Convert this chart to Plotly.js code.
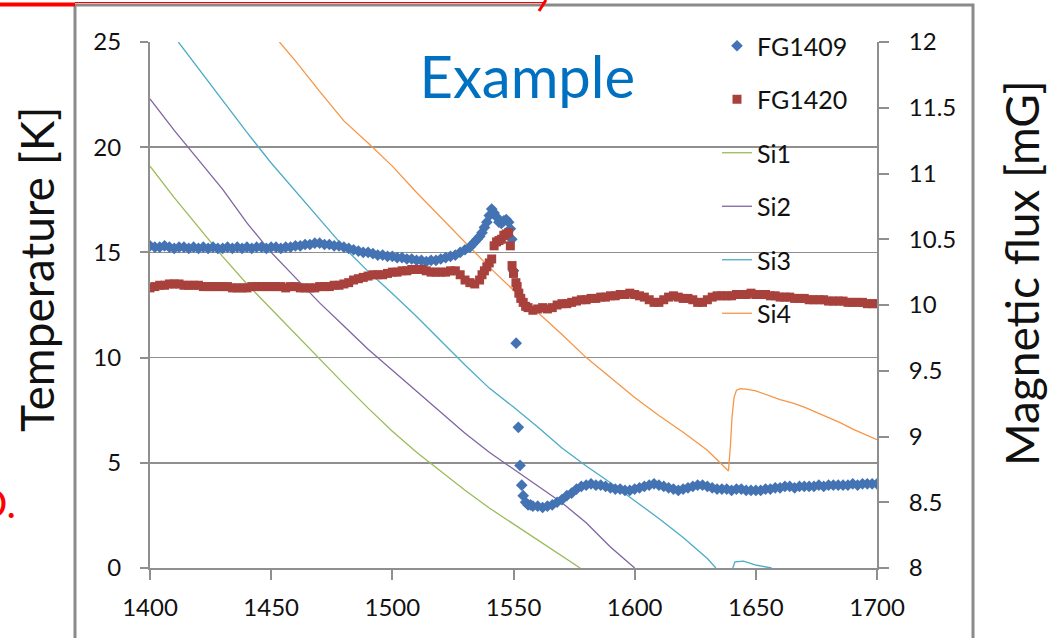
<!DOCTYPE html>
<html>
<head>
<meta charset="utf-8">
<script src="https://cdn.plot.ly/plotly-3.0.1.min.js"></script>
<style>html,body{margin:0;padding:0;background:#fff;}#chart{width:1058px;height:638px;}</style>
</head>
<body>
<div id="chart"></div>
<script>
// ---- FG1409 (right axis, mG) ----
const fg1409Time = [1400,1402,1404,1406,1408,1410,1412,1414,1416,1418,1420,1422,1424,1426,1428,1430,1432,1434,1436,1438,1440,1442,1444,1446,1448,1450,1452,1454,1456,1458,1460,1462,1464,1466,1468,1470,1472,1474,1476,1478,1480,1482,1484,1486,1488,1490,1492,1494,1496,1498,1500,1502,1504,1506,1508,1510,1512,1514,1516,1518,1520,1522,1524,1526,1528,1530,1532,1533,1534,1535,1536,1537,1538,1539,1540,1541,1542,1543,1544,1545,1546,1547,1548,1548.7,1549.3,1550,1551.1,1552,1552.7,1553.4,1554,1555,1556,1557,1558,1560,1562,1564,1566,1568,1570,1572,1574,1576,1578,1580,1582,1584,1586,1588,1590,1592,1594,1596,1598,1600,1602,1604,1606,1608,1610,1612,1614,1616,1618,1620,1622,1624,1626,1628,1630,1632,1634,1636,1638,1640,1642,1644,1646,1648,1650,1652,1654,1656,1658,1660,1662,1664,1666,1668,1670,1672,1674,1676,1678,1680,1682,1684,1686,1688,1690,1692,1694,1696,1698,1700];
const fg1409Flux = [10.45,10.44,10.44,10.45,10.44,10.43,10.44,10.44,10.43,10.44,10.43,10.44,10.43,10.44,10.43,10.43,10.44,10.43,10.44,10.43,10.44,10.43,10.44,10.44,10.43,10.44,10.44,10.43,10.44,10.44,10.45,10.45,10.46,10.46,10.47,10.47,10.46,10.46,10.45,10.45,10.44,10.43,10.42,10.41,10.40,10.40,10.39,10.38,10.38,10.37,10.37,10.36,10.36,10.35,10.35,10.34,10.34,10.33,10.34,10.34,10.35,10.36,10.37,10.38,10.40,10.42,10.44,10.46,10.48,10.50,10.52,10.55,10.59,10.63,10.68,10.73,10.70,10.67,10.63,10.62,10.64,10.65,10.63,10.58,10.50,10.26,9.71,9.07,8.78,8.63,8.55,8.50,8.48,8.48,8.47,8.47,8.46,8.47,8.48,8.50,8.52,8.55,8.57,8.60,8.62,8.63,8.64,8.63,8.63,8.62,8.61,8.60,8.60,8.59,8.59,8.60,8.61,8.62,8.63,8.64,8.63,8.62,8.61,8.60,8.59,8.60,8.61,8.62,8.63,8.63,8.62,8.61,8.60,8.60,8.60,8.59,8.60,8.60,8.59,8.59,8.59,8.59,8.60,8.60,8.61,8.61,8.62,8.62,8.61,8.62,8.62,8.62,8.62,8.63,8.62,8.63,8.63,8.63,8.63,8.63,8.64,8.63,8.64,8.64,8.64,8.64];

// ---- FG1420 (right axis, mG) ----
const fg1420Time = [1400,1402,1404,1406,1408,1410,1412,1414,1416,1418,1420,1422,1424,1426,1428,1430,1432,1434,1436,1438,1440,1442,1444,1446,1448,1450,1452,1454,1456,1458,1460,1462,1464,1466,1468,1470,1472,1474,1476,1478,1480,1482,1484,1486,1488,1490,1492,1494,1496,1498,1500,1502,1504,1506,1508,1510,1512,1514,1516,1518,1520,1522,1524,1526,1528,1530,1532,1534,1536,1537,1538,1539,1540,1541,1542,1543,1544,1545,1546,1547,1548,1548.7,1549.4,1550,1551,1551.5,1552.2,1553,1554,1555,1556,1558,1560,1562,1564,1566,1568,1570,1572,1574,1576,1578,1580,1582,1584,1586,1588,1590,1592,1594,1596,1598,1600,1602,1604,1606,1608,1610,1612,1614,1616,1618,1620,1622,1624,1626,1628,1630,1632,1634,1636,1638,1640,1642,1644,1646,1648,1650,1652,1654,1656,1658,1660,1662,1664,1666,1668,1670,1672,1674,1676,1678,1680,1682,1684,1686,1688,1690,1692,1694,1696,1698,1700];
const fg1420Flux = [10.13,10.14,10.15,10.15,10.16,10.16,10.16,10.15,10.15,10.15,10.15,10.14,10.14,10.14,10.14,10.14,10.14,10.13,10.13,10.13,10.13,10.14,10.14,10.14,10.14,10.14,10.14,10.14,10.13,10.14,10.14,10.13,10.13,10.13,10.13,10.14,10.14,10.14,10.15,10.15,10.16,10.17,10.19,10.20,10.21,10.22,10.23,10.23,10.23,10.24,10.25,10.25,10.26,10.26,10.27,10.27,10.27,10.26,10.25,10.25,10.25,10.25,10.26,10.26,10.23,10.19,10.17,10.16,10.19,10.23,10.26,10.29,10.32,10.35,10.45,10.48,10.49,10.50,10.53,10.54,10.55,10.45,10.30,10.24,10.17,10.14,10.09,10.05,10.02,9.99,9.98,9.96,9.97,9.98,9.97,9.98,10.00,10.01,10.01,10.02,10.03,10.04,10.04,10.05,10.05,10.06,10.06,10.07,10.07,10.08,10.08,10.09,10.08,10.07,10.06,10.04,10.02,10.02,10.04,10.06,10.07,10.06,10.05,10.05,10.04,10.02,10.02,10.04,10.06,10.07,10.07,10.07,10.07,10.08,10.08,10.08,10.09,10.08,10.08,10.08,10.07,10.07,10.06,10.06,10.06,10.05,10.05,10.05,10.04,10.04,10.04,10.04,10.03,10.03,10.03,10.03,10.02,10.02,10.02,10.02,10.01,10.01,10.01];

// ---- Silicon diode temperatures (left axis, K) ----
const si1Time = [1400,1410,1420,1430,1440,1450,1460,1470,1480,1490,1500,1510,1520,1530,1540,1550,1560,1570,1577.5];
const si1Temp = [19.1,17.6,16.2,14.8,13.5,12.3,11.1,9.9,8.75,7.6,6.5,5.5,4.6,3.7,2.85,2.1,1.35,0.6,0];

const si2Time = [1400,1410,1420,1430,1440,1450,1460,1470,1480,1490,1500,1510,1520,1530,1540,1550,1560,1570,1580,1590,1600];
const si2Temp = [22.3,20.8,19.4,18.0,16.4,15.0,13.8,12.6,11.5,10.4,9.4,8.4,7.4,6.4,5.5,4.7,3.9,3.1,2.15,1.0,0];

const si3Time = [1411.7,1420,1430,1440,1450,1460,1470,1480,1490,1500,1510,1520,1530,1540,1550,1560,1570,1580,1590,1600,1610,1620,1630,1633.5,1637,1640.5,1641.4,1644.9,1650.4,1656.5];
const si3Temp = [25,23.75,22.2,20.7,19.25,17.9,16.6,15.25,14.1,13.05,11.95,10.8,9.65,8.55,7.65,6.7,5.7,4.85,4.05,3.2,2.35,1.45,0.45,0,null,0,0.29,0.33,0.13,0];

const si4Time = [1453.4,1460,1470,1480,1490,1500,1510,1520,1530,1540,1550,1560,1570,1580,1590,1600,1610,1620,1630,1638.7,1639.5,1640.2,1641,1642,1643.5,1646,1650,1655,1660,1665,1670,1675,1680,1685,1690,1695,1700];
const si4Temp = [25,24.1,22.65,21.25,20.2,19.1,17.85,16.65,15.45,14.3,13.2,12.15,11.1,10.0,9.05,8.1,7.25,6.45,5.6,4.61,5.8,7.2,8.1,8.45,8.52,8.5,8.42,8.2,8.0,7.85,7.65,7.4,7.15,6.9,6.6,6.35,6.1];

const xTicks = [1400,1450,1500,1550,1600,1650,1700];
const yTicks = [0,5,10,15,20,25];
const y2Ticks = [8,8.5,9,9.5,10,10.5,11,11.5,12];
const y2TickText = ['8','8.5','9','9.5','10','10.5','11','11.5','12'];

const FONT = 'Lato, "Open Sans", "DejaVu Sans", sans-serif';
const GRAY = '#8f8f8f';

const traces = [
  {name:'FG1409', x:fg1409Time, y:fg1409Flux, yaxis:'y2', type:'scatter', mode:'markers',
   marker:{symbol:'diamond', size:9, color:'#4473b4'}, legendgroup:'a'},
  {name:'FG1420', x:fg1420Time, y:fg1420Flux, yaxis:'y2', type:'scatter', mode:'markers',
   marker:{symbol:'square', size:9, color:'#a8413c'}, legendgroup:'b'},
  {name:'Si1', x:si1Time, y:si1Temp, type:'scatter', mode:'lines', line:{color:'#9bbb59', width:1.3}, legendgroup:'c', connectgaps:false},
  {name:'Si2', x:si2Time, y:si2Temp, type:'scatter', mode:'lines', line:{color:'#8064a2', width:1.3}, legendgroup:'d', connectgaps:false},
  {name:'Si3', x:si3Time, y:si3Temp, type:'scatter', mode:'lines', line:{color:'#4bacc6', width:1.3}, legendgroup:'e', connectgaps:false},
  {name:'Si4', x:si4Time, y:si4Temp, type:'scatter', mode:'lines', line:{color:'#f79646', width:1.3}, legendgroup:'f', connectgaps:false}
];

function px2x(p){ return (p-150)/727; }
function px2y(p){ return (568-p)/526; }

const layout = {
  width:1058, height:638,
  margin:{l:150, r:181, t:42, b:70, pad:0},
  paper_bgcolor:'#ffffff', plot_bgcolor:'rgba(0,0,0,0)',
  font:{family:FONT, color:'#111111', size:22},
  showlegend:true,
  title:{text:'Example', font:{family:FONT, size:58, color:'#0070c0'},
         xref:'paper', x:0.519, xanchor:'center', yref:'container', y:1-78/638, yanchor:'middle'},
  xaxis:{range:[1400,1700], tickvals:xTicks, ticktext:xTicks.map(String), showgrid:false, zeroline:false,
         showline:true, linecolor:GRAY, linewidth:2, ticks:'outside', ticklen:10, tickwidth:2, tickcolor:GRAY,
         ticklabelstandoff:7, tickfont:{family:FONT, size:24, color:'#111'}},
  yaxis:{range:[0,25], tickvals:yTicks, ticktext:yTicks.map(String), showgrid:true, gridcolor:GRAY, gridwidth:1.5,
         zeroline:false, showline:true, linecolor:GRAY, linewidth:2, ticks:'outside', ticklen:8, tickwidth:2, tickcolor:GRAY,
         ticklabelstandoff:14, tickfont:{family:FONT, size:24, color:'#111'}},
  yaxis2:{range:[8,12], tickvals:y2Ticks, ticktext:y2TickText, overlaying:'y', side:'right', showgrid:false, zeroline:false,
         showline:true, linecolor:GRAY, linewidth:2, ticks:'outside', ticklen:10, tickwidth:2, tickcolor:GRAY,
         ticklabelstandoff:15, tickfont:{family:FONT, size:24, color:'#111'}},
  legend:{x:px2x(717), xanchor:'left', y:px2y(23), yanchor:'top', bgcolor:'rgba(0,0,0,0)', borderwidth:0,
          traceorder:'grouped', tracegroupgap:18, font:{family:FONT, size:25, color:'#111'}},
  shapes:[
    {type:'rect', xref:'paper', yref:'paper', x0:px2x(75), x1:px2x(973), y0:px2y(5), y1:px2y(660),
     line:{color:'#8a8a8a', width:3}, fillcolor:'rgba(0,0,0,0)', layer:'below'},
    {type:'line', xref:'paper', yref:'paper', x0:px2x(0), x1:px2x(75), y0:px2y(4.5), y1:px2y(4.5), line:{color:'#ff0000', width:4}},
    {type:'line', xref:'paper', yref:'paper', x0:px2x(75), x1:px2x(545), y0:px2y(2.5), y1:px2y(2.5), line:{color:'#ff0000', width:1}},
    {type:'line', xref:'paper', yref:'paper', x0:px2x(546), x1:px2x(539), y0:px2y(0), y1:px2y(11), line:{color:'#ff0000', width:3}}
  ],
  annotations:[
    {text:'Temperature [K]', xref:'paper', yref:'paper', x:px2x(36), xanchor:'center', y:px2y(270), yanchor:'middle',
     textangle:-90, showarrow:false, font:{family:FONT, size:46, color:'#111'}},
    {text:'Magnetic flux [mG]', xref:'paper', yref:'paper', x:px2x(1021), xanchor:'center', y:px2y(273), yanchor:'middle',
     textangle:-90, showarrow:false, font:{family:FONT, size:46, color:'#111'}},
    {text:'D.', xref:'paper', yref:'paper', x:px2x(18), xanchor:'right', y:px2y(503), yanchor:'middle',
     showarrow:false, font:{family:FONT, size:40, color:'#ff0000'}}
  ]
};

Plotly.newPlot('chart', traces, layout, {displayModeBar:false, staticPlot:true});
</script>
</body>
</html>
